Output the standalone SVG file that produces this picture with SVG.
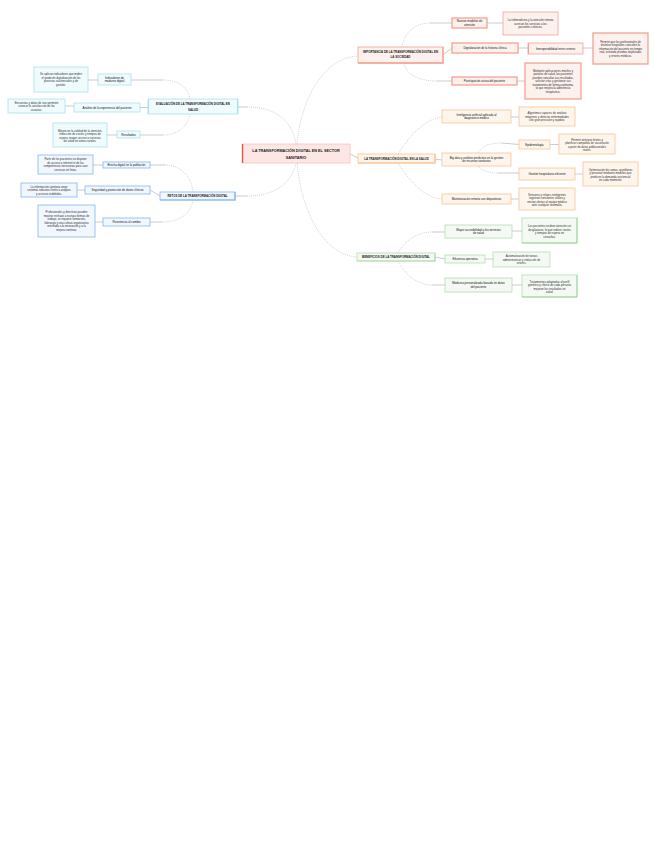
<svg xmlns="http://www.w3.org/2000/svg" width="655" height="848" viewBox="0 0 655 848">
<style>
text{font-family:"Liberation Sans",Arial,sans-serif;fill:#2e2e2e;text-anchor:middle;font-size:2.8px}
.m{font-size:2.9px;font-weight:bold;fill:#1a1a1a}
.c{font-size:3.8px;font-weight:bold;fill:#1a1a1a}
.n{font-size:2.9px;fill:#111}
rect{stroke-width:.8}
.red{fill:#fdf1ee;stroke:#f3a393}
.org{fill:#fef6ed;stroke:#f8c48f}
.grn{fill:#f4faf3;stroke:#b3deb0}
.cyn{fill:#f0fbfd;stroke:#a9e4ed}
.blu{fill:#f1f7fe;stroke:#85b6ec}
.ctr{fill:#fde7e4;stroke:#f6c3bc}
.d{fill:none;stroke:#b5b5b5;stroke-width:.6;stroke-dasharray:1 1}
.s{fill:none;stroke:#aaaaaa;stroke-width:.6}
.acc{stroke-width:1.3}
</style>
<rect width="655" height="848" fill="#ffffff"/>
<g id="connectors">
<path class="d" d="M247,107 C275,107 292,120 296,144"/>
<path class="d" d="M247,196 C275,196 292,183 296,163"/>
<path class="d" d="M297,144 C302,95 325,58 358,56"/>
<path class="d" d="M297,163 C302,215 325,255 357,257"/>
<path class="d" d="M190,99 C188,87 178,80 163,80"/>
<path class="d" d="M190,114 C188,126 178,135 163,135"/>
<path class="d" d="M193,192 C191,175 180,165 165,165"/>
<path class="d" d="M193,200 C191,213 180,222 162,222"/>
<path class="d" d="M402,47 C404,33 415,23 430,23"/>
<path class="d" d="M404,63 C406,75 420,81 437,81"/>
<path class="d" d="M398,154 C410,135 425,119 442,117"/>
<path class="d" d="M398,163 C410,182 425,198 442,199"/>
<path class="d" d="M478,153 C482,146 490,143 502,143"/>
<path class="d" d="M478,166 C482,171 490,173 498,173"/>
<path class="d" d="M398,253 C405,240 418,232 432,232"/>
<path class="d" d="M398,261 C405,275 418,285 432,285"/>
<path class="s" d="M131,80H163M140,107.5H148M140,135H163M88,80H98M65,106H74M107,135H117M238,107H247M235,196H247"/>
<path class="s" d="M150,165H165M150,190L160,196M150,222H162M93,165H103M77,190H85M95,222H103"/>
<path class="s" d="M350,154L358,158M443,55L452,48M430,23H452M437,81H452M487,23H503M518,48H528M583,48H593M517,81H525"/>
<path class="s" d="M435,159L442,160M511,117H519M502,143L519,144.5M498,173H519M550,144.5H559M575,174H583M511,199H519"/>
<path class="s" d="M435,257L445,259M432,232H445M432,285H445M512,231H522M485,259H493M512,285H522"/>
</g>
<g id="central">
<rect class="ctr" x="242" y="144" width="108" height="19"/>
<path d="M242.6,144V163" stroke="#e2574a" stroke-width="1.3"/>
<text class="c" x="296" y="151.5">LA TRANSFORMACIÓN DIGITAL EN EL SECTOR</text>
<text class="c" x="296" y="158.5">SANITARIO</text>
</g>
<g id="evaluacion">
<rect class="cyn" x="148" y="99" width="90" height="15"/>
<path d="M148.5,99V114M237.5,99V114" stroke="#a9e4ed" stroke-width="1.2"/>
<text class="m" x="193" y="105">EVALUACIÓN DE LA TRANSFORMACIÓN DIGITAL EN</text>
<text class="m" x="193" y="110.5">SALUD</text>
</g>
<g id="a1"><rect class="cyn" x="98" y="74" width="33" height="11"/><text class="n" x="114.5" y="78.75">Indicadores de</text><text class="n" x="114.5" y="82.25">madurez digital</text></g>
<g id="a1d"><rect class="cyn" x="34" y="67" width="54" height="25"/><text x="61" y="75.25">Se aplican indicadores que miden</text><text x="61" y="78.75">el grado de digitalización de los</text><text x="61" y="82.25">procesos asistenciales y de</text><text x="61" y="85.75">gestión.</text></g>
<g id="a2"><rect class="cyn" x="74" y="103" width="66" height="9"/><text class="n" x="107" y="108.5">Análisis de la experiencia del paciente</text></g>
<g id="a2d"><rect class="cyn" x="8" y="99" width="57" height="14"/><text x="36.5" y="103.5">Encuestas y datos de uso permiten</text><text x="36.5" y="107">conocer la satisfacción de los</text><text x="36.5" y="110.5">usuarios.</text></g>
<g id="a3"><rect class="cyn" x="117" y="131" width="23" height="7"/><text class="n" x="128.5" y="135.5">Resultados</text></g>
<g id="a3d"><rect class="cyn" x="53" y="123" width="54" height="24"/><text x="80" y="131.75">Mejora en la calidad de la atención,</text><text x="80" y="135.25">reducción de costes y tiempos de</text><text x="80" y="138.75">espera, mayor acceso a servicios</text><text x="80" y="142.25">de salud en zonas rurales.</text></g>
<g id="retos">
<rect class="blu" x="160" y="192" width="75" height="8"/>
<path d="M160,200H235V192" fill="none" stroke="#85b6ec" stroke-width="1.2"/>
<text class="m" x="197.5" y="197">RETOS DE LA TRANSFORMACIÓN DIGITAL</text>
</g>
<g id="b1"><rect class="blu" x="103" y="162" width="47" height="6"/><text class="n" x="126.5" y="166">Brecha digital en la población</text></g>
<g id="b1d"><rect class="blu" x="38" y="155" width="55" height="19"/><text x="65.5" y="160.25">Parte de los pacientes no dispone</text><text x="65.5" y="163.75">de acceso a internet ni de las</text><text x="65.5" y="167.25">competencias necesarias para usar</text><text x="65.5" y="170.75">servicios en línea.</text></g>
<g id="b2"><rect class="blu" x="85" y="186" width="65" height="8"/><text class="n" x="117.5" y="191">Seguridad y protección de datos clínicos</text></g>
<g id="b2d"><rect class="blu" x="21" y="183" width="56" height="14"/><text x="49" y="187.5">La información sanitaria exige</text><text x="49" y="191">sistemas robustos frente a ataques</text><text x="49" y="194.5">y accesos indebidos.</text></g>
<g id="b3"><rect class="blu" x="103" y="218" width="47" height="8"/><text class="n" x="126.5" y="223">Resistencia al cambio</text></g>
<g id="b3d"><rect class="blu" x="38" y="205" width="57" height="32"/><text x="66.5" y="213.25">Profesionales y directivos pueden</text><text x="66.5" y="216.75">mostrar rechazo a nuevas formas de</text><text x="66.5" y="220.25">trabajo; se requiere formación,</text><text x="66.5" y="223.75">liderazgo y una cultura organizativa</text><text x="66.5" y="227.25">orientada a la innovación y a la</text><text x="66.5" y="230.75">mejora continua.</text></g>
<g id="importancia">
<rect class="red" x="358" y="47" width="85" height="16"/>
<path d="M358,63H443V47" fill="none" stroke="#f3a393" stroke-width="1.3"/>
<text class="m" x="400.5" y="53.3">IMPORTANCIA DE LA TRANSFORMACIÓN DIGITAL EN</text>
<text class="m" x="400.5" y="57.8">LA SOCIEDAD</text>
</g>
<g id="r1a"><rect class="red acc" x="452" y="18" width="35" height="10"/><text class="n" x="469.5" y="22.25">Nuevos modelos de</text><text class="n" x="469.5" y="25.75">atención</text></g>
<g id="r1ad"><rect class="red" x="503" y="12" width="55" height="23"/><text x="530.5" y="21">La telemedicina y la atención remota</text><text x="530.5" y="24.5">acercan los servicios a los</text><text x="530.5" y="28">pacientes crónicos.</text></g>
<g id="r1b"><rect class="red acc" x="452" y="43" width="66" height="10"/><text class="n" x="485" y="49">Digitalización de la historia clínica</text></g>
<g id="r1b1"><rect class="red" x="528" y="43" width="55" height="11" stroke-width=".4"/><path d="M528.5,43V54" stroke="#f3a393" stroke-width="1"/><text class="n" x="555.5" y="49.5">Interoperabilidad entre centros</text></g>
<g id="r1b1d"><rect class="red acc" x="593" y="33" width="55" height="31"/><text x="620.5" y="42.5">Permite que los profesionales de</text><text x="620.5" y="46">distintos hospitales consulten la</text><text x="620.5" y="49.5">información del paciente en tiempo</text><text x="620.5" y="53">real, evitando pruebas duplicadas</text><text x="620.5" y="56.5">y errores médicos.</text></g>
<g id="r1c"><rect class="red acc" x="452" y="77" width="65" height="8"/><text class="n" x="484.5" y="82">Participación activa del paciente</text></g>
<g id="r1cd"><rect class="red acc" x="525" y="63" width="56" height="36"/><text x="553" y="71.5">Mediante aplicaciones móviles y</text><text x="553" y="75">portales de salud, los pacientes</text><text x="553" y="78.5">pueden consultar sus resultados,</text><text x="553" y="82">solicitar citas y gestionar sus</text><text x="553" y="85.5">tratamientos de forma autónoma,</text><text x="553" y="89">lo que mejora la adherencia</text><text x="553" y="92.5">terapéutica.</text></g>
<g id="salud">
<rect class="org" x="358" y="154" width="77" height="9"/>
<path d="M358,163H435V154" fill="none" stroke="#f8c48f" stroke-width="1.2"/>
<text class="m" x="396.5" y="159.5">LA TRANSFORMACIÓN DIGITAL EN LA SALUD</text>
</g>
<g id="r2a"><rect class="org" x="442" y="110" width="69" height="13"/><text class="n" x="476.5" y="115.75">Inteligencia artificial aplicada al</text><text class="n" x="476.5" y="119.25">diagnóstico médico</text></g>
<g id="r2ad"><rect class="org" x="519" y="107" width="56" height="19"/><text x="547" y="114">Algoritmos capaces de analizar</text><text x="547" y="117.5">imágenes y detectar enfermedades</text><text x="547" y="121">con gran precisión y rapidez.</text></g>
<g id="r2b"><rect class="org" x="442" y="153" width="69" height="13"/><text class="n" x="476.5" y="158.75">Big data y análisis predictivo en la gestión</text><text class="n" x="476.5" y="162.25">de recursos sanitarios</text></g>
<g id="r2b1"><rect class="org" x="519" y="140" width="31" height="9"/><text class="n" x="534.5" y="145.5">Epidemiología</text></g>
<g id="r2b1d"><rect class="org" x="559" y="134" width="56" height="20"/><text x="587" y="140.75">Permite anticipar brotes y</text><text x="587" y="144.25">planificar campañas de vacunación</text><text x="587" y="147.75">a partir de datos poblacionales</text><text x="587" y="151.25">reales.</text></g>
<g id="r2b2"><rect class="org" x="519" y="168" width="56" height="12"/><text class="n" x="547" y="175">Gestión hospitalaria eficiente</text></g>
<g id="r2b2d"><rect class="org" x="583" y="162" width="55" height="24"/><text x="610.5" y="170.75">Optimización de camas, quirófanos</text><text x="610.5" y="174.25">y personal mediante modelos que</text><text x="610.5" y="177.75">predicen la demanda asistencial</text><text x="610.5" y="181.25">en cada momento.</text></g>
<g id="r2c"><rect class="org" x="442" y="194" width="69" height="10"/><text class="n" x="476.5" y="200">Monitorización remota con dispositivos</text></g>
<g id="r2cd"><rect class="org" x="519" y="188" width="56" height="22"/><text x="547" y="195.75">Sensores y relojes inteligentes</text><text x="547" y="199.25">registran constantes vitales y</text><text x="547" y="202.75">envían alertas al equipo médico</text><text x="547" y="206.25">ante cualquier anomalía.</text></g>
<g id="beneficios">
<rect class="grn" x="357" y="253" width="78" height="8"/>
<path d="M357,261H435V253" fill="none" stroke="#b3deb0" stroke-width="1.2"/>
<text class="m" x="396" y="258">BENEFICIOS DE LA TRANSFORMACIÓN DIGITAL</text>
</g>
<g id="r3a"><rect class="grn" x="445" y="225" width="67" height="13"/><text class="n" x="478.5" y="230.75">Mayor accesibilidad a los servicios</text><text class="n" x="478.5" y="234.25">de salud</text></g>
<g id="r3ad"><rect class="grn" x="522" y="218" width="55" height="25"/><path d="M522,243H577V218" fill="none" stroke="#9fd59b" stroke-width="1"/><text x="549.5" y="227.25">Los pacientes reciben atención sin</text><text x="549.5" y="230.75">desplazarse, lo que reduce costes</text><text x="549.5" y="234.25">y tiempos de espera en</text><text x="549.5" y="237.75">consultas.</text></g>
<g id="r3b"><rect class="grn" x="445" y="255" width="40" height="8"/><text class="n" x="465" y="260">Eficiencia operativa</text></g>
<g id="r3bd"><rect class="grn" x="493" y="252" width="57" height="15"/><text x="521.5" y="257">Automatización de tareas</text><text x="521.5" y="260.5">administrativas y reducción de</text><text x="521.5" y="264">errores.</text></g>
<g id="r3c"><rect class="grn" x="445" y="278" width="67" height="14"/><text class="n" x="478.5" y="284.25">Medicina personalizada basada en datos</text><text class="n" x="478.5" y="287.75">del paciente</text></g>
<g id="r3cd"><rect class="grn" x="522" y="275" width="55" height="22"/><path d="M522,297H577V275" fill="none" stroke="#9fd59b" stroke-width="1"/><text x="549.5" y="282.75">Tratamientos adaptados al perfil</text><text x="549.5" y="286.25">genético y clínico de cada persona</text><text x="549.5" y="289.75">mejoran los resultados en</text><text x="549.5" y="293.25">salud.</text></g>
</svg>
